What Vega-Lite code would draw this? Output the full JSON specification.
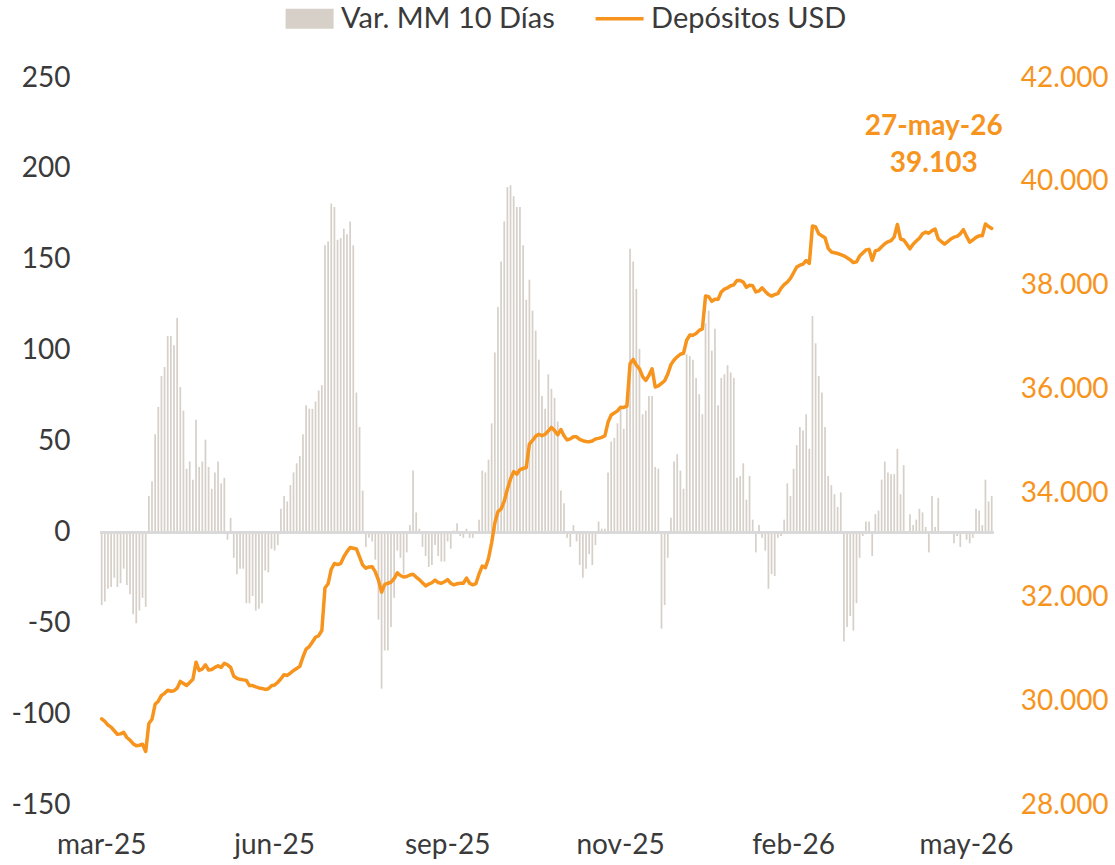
{
  "$schema": "https://vega.github.io/schema/vega-lite/v6.json",
  "width": 893.2,
  "height": 727,
  "autosize": {"type": "none"},
  "padding": {"left": 100.1, "top": 78, "right": 121.7, "bottom": 60},
  "background": "white",
  "config": {
    "view": {"stroke": null},
    "font": "Lato",
    "locale": {
      "number": {"decimal": ",", "thousands": ".", "grouping": [3], "currency": ["$", ""], "minus": "-"}
    },
    "axis": {
      "grid": false, "domain": false, "ticks": false, "tickSize": 0,
      "labelFont": "Lato", "labelFontSize": 28, "labelColor": "#3A3A3A", "title": null
    }
  },
  "datasets": {
    "anotacion": [{"fecha": "2026-05-27", "depositos": 39103, "etiqueta": "27-may-26"}],
    "serie": [
      {"fecha": "2025-03-25", "var_mm10": -40, "depositos": 29660},
      {"fecha": "2025-03-26", "var_mm10": -38, "depositos": 29610},
      {"fecha": "2025-03-27", "var_mm10": -31, "depositos": 29540},
      {"fecha": "2025-03-28", "var_mm10": -30, "depositos": 29500},
      {"fecha": "2025-03-31", "var_mm10": -25, "depositos": 29430},
      {"fecha": "2025-04-01", "var_mm10": -30, "depositos": 29360},
      {"fecha": "2025-04-03", "var_mm10": -28, "depositos": 29370},
      {"fecha": "2025-04-04", "var_mm10": -20, "depositos": 29400},
      {"fecha": "2025-04-07", "var_mm10": -29, "depositos": 29300},
      {"fecha": "2025-04-08", "var_mm10": -34, "depositos": 29250},
      {"fecha": "2025-04-09", "var_mm10": -45, "depositos": 29180},
      {"fecha": "2025-04-10", "var_mm10": -50, "depositos": 29140},
      {"fecha": "2025-04-11", "var_mm10": -43, "depositos": 29150},
      {"fecha": "2025-04-14", "var_mm10": -36, "depositos": 29170},
      {"fecha": "2025-04-15", "var_mm10": -41, "depositos": 29030},
      {"fecha": "2025-04-16", "var_mm10": 20, "depositos": 29570},
      {"fecha": "2025-04-21", "var_mm10": 28, "depositos": 29650},
      {"fecha": "2025-04-22", "var_mm10": 54, "depositos": 29940},
      {"fecha": "2025-04-23", "var_mm10": 69, "depositos": 30000},
      {"fecha": "2025-04-24", "var_mm10": 86, "depositos": 30110},
      {"fecha": "2025-04-25", "var_mm10": 91, "depositos": 30150},
      {"fecha": "2025-04-28", "var_mm10": 108, "depositos": 30210},
      {"fecha": "2025-04-29", "var_mm10": 108, "depositos": 30190},
      {"fecha": "2025-04-30", "var_mm10": 103, "depositos": 30200},
      {"fecha": "2025-05-05", "var_mm10": 118, "depositos": 30250},
      {"fecha": "2025-05-06", "var_mm10": 80, "depositos": 30380},
      {"fecha": "2025-05-07", "var_mm10": 67, "depositos": 30340},
      {"fecha": "2025-05-08", "var_mm10": 35, "depositos": 30300},
      {"fecha": "2025-05-09", "var_mm10": 39, "depositos": 30360},
      {"fecha": "2025-05-12", "var_mm10": 29, "depositos": 30420},
      {"fecha": "2025-05-13", "var_mm10": 62, "depositos": 30750},
      {"fecha": "2025-05-14", "var_mm10": 36, "depositos": 30590},
      {"fecha": "2025-05-15", "var_mm10": 39, "depositos": 30620},
      {"fecha": "2025-05-16", "var_mm10": 51, "depositos": 30700},
      {"fecha": "2025-05-19", "var_mm10": 36, "depositos": 30600},
      {"fecha": "2025-05-20", "var_mm10": 24, "depositos": 30610},
      {"fecha": "2025-05-21", "var_mm10": 33, "depositos": 30650},
      {"fecha": "2025-05-22", "var_mm10": 39, "depositos": 30680},
      {"fecha": "2025-05-23", "var_mm10": 27, "depositos": 30650},
      {"fecha": "2025-05-26", "var_mm10": 30, "depositos": 30730},
      {"fecha": "2025-05-27", "var_mm10": -4, "depositos": 30700},
      {"fecha": "2025-05-28", "var_mm10": 8, "depositos": 30650},
      {"fecha": "2025-05-29", "var_mm10": -14, "depositos": 30480},
      {"fecha": "2025-05-30", "var_mm10": -23, "depositos": 30440},
      {"fecha": "2025-06-02", "var_mm10": -20, "depositos": 30420},
      {"fecha": "2025-06-03", "var_mm10": -20, "depositos": 30410},
      {"fecha": "2025-06-04", "var_mm10": -39, "depositos": 30400},
      {"fecha": "2025-06-05", "var_mm10": -39, "depositos": 30300},
      {"fecha": "2025-06-06", "var_mm10": -35, "depositos": 30300},
      {"fecha": "2025-06-09", "var_mm10": -43, "depositos": 30275},
      {"fecha": "2025-06-10", "var_mm10": -42, "depositos": 30255},
      {"fecha": "2025-06-11", "var_mm10": -39, "depositos": 30245},
      {"fecha": "2025-06-12", "var_mm10": -21, "depositos": 30225},
      {"fecha": "2025-06-13", "var_mm10": -22, "depositos": 30240},
      {"fecha": "2025-06-17", "var_mm10": -9, "depositos": 30297},
      {"fecha": "2025-06-18", "var_mm10": -10, "depositos": 30310},
      {"fecha": "2025-06-19", "var_mm10": -7, "depositos": 30365},
      {"fecha": "2025-06-23", "var_mm10": 13, "depositos": 30430},
      {"fecha": "2025-06-24", "var_mm10": 20, "depositos": 30510},
      {"fecha": "2025-06-25", "var_mm10": 17, "depositos": 30495},
      {"fecha": "2025-06-26", "var_mm10": 26, "depositos": 30540},
      {"fecha": "2025-06-27", "var_mm10": 33, "depositos": 30590},
      {"fecha": "2025-06-30", "var_mm10": 38, "depositos": 30630},
      {"fecha": "2025-07-01", "var_mm10": 42, "depositos": 30670},
      {"fecha": "2025-07-02", "var_mm10": 54, "depositos": 30850},
      {"fecha": "2025-07-03", "var_mm10": 70, "depositos": 31000},
      {"fecha": "2025-07-04", "var_mm10": 68, "depositos": 31050},
      {"fecha": "2025-07-07", "var_mm10": 68, "depositos": 31140},
      {"fecha": "2025-07-08", "var_mm10": 72, "depositos": 31230},
      {"fecha": "2025-07-10", "var_mm10": 78, "depositos": 31260},
      {"fecha": "2025-07-11", "var_mm10": 81, "depositos": 31360},
      {"fecha": "2025-07-14", "var_mm10": 158, "depositos": 32180},
      {"fecha": "2025-07-15", "var_mm10": 160, "depositos": 32260},
      {"fecha": "2025-07-16", "var_mm10": 181, "depositos": 32540},
      {"fecha": "2025-07-17", "var_mm10": 179, "depositos": 32650},
      {"fecha": "2025-07-18", "var_mm10": 161, "depositos": 32630},
      {"fecha": "2025-07-21", "var_mm10": 162, "depositos": 32650},
      {"fecha": "2025-07-22", "var_mm10": 167, "depositos": 32780},
      {"fecha": "2025-07-23", "var_mm10": 164, "depositos": 32880},
      {"fecha": "2025-07-24", "var_mm10": 171, "depositos": 32960},
      {"fecha": "2025-07-25", "var_mm10": 158, "depositos": 32945},
      {"fecha": "2025-07-28", "var_mm10": 77, "depositos": 32930},
      {"fecha": "2025-07-29", "var_mm10": 58, "depositos": 32780},
      {"fecha": "2025-07-30", "var_mm10": 23, "depositos": 32620},
      {"fecha": "2025-07-31", "var_mm10": -8, "depositos": 32560},
      {"fecha": "2025-08-01", "var_mm10": -3, "depositos": 32585},
      {"fecha": "2025-08-04", "var_mm10": -5, "depositos": 32590},
      {"fecha": "2025-08-05", "var_mm10": -15, "depositos": 32490},
      {"fecha": "2025-08-06", "var_mm10": -48, "depositos": 32330},
      {"fecha": "2025-08-07", "var_mm10": -86, "depositos": 32100},
      {"fecha": "2025-08-08", "var_mm10": -65, "depositos": 32250},
      {"fecha": "2025-08-11", "var_mm10": -65, "depositos": 32270},
      {"fecha": "2025-08-12", "var_mm10": -52, "depositos": 32290},
      {"fecha": "2025-08-13", "var_mm10": -36, "depositos": 32360},
      {"fecha": "2025-08-14", "var_mm10": -10, "depositos": 32470},
      {"fecha": "2025-08-18", "var_mm10": -14, "depositos": 32420},
      {"fecha": "2025-08-19", "var_mm10": -23, "depositos": 32390},
      {"fecha": "2025-08-20", "var_mm10": -11, "depositos": 32400},
      {"fecha": "2025-08-21", "var_mm10": 4, "depositos": 32430},
      {"fecha": "2025-08-22", "var_mm10": 34, "depositos": 32445},
      {"fecha": "2025-08-25", "var_mm10": 11, "depositos": 32390},
      {"fecha": "2025-08-26", "var_mm10": 2, "depositos": 32340},
      {"fecha": "2025-08-27", "var_mm10": -8, "depositos": 32280},
      {"fecha": "2025-08-28", "var_mm10": -13, "depositos": 32220},
      {"fecha": "2025-08-29", "var_mm10": -19, "depositos": 32255},
      {"fecha": "2025-09-01", "var_mm10": -18, "depositos": 32280},
      {"fecha": "2025-09-02", "var_mm10": -7, "depositos": 32330},
      {"fecha": "2025-09-03", "var_mm10": -13, "depositos": 32285},
      {"fecha": "2025-09-04", "var_mm10": -16, "depositos": 32270},
      {"fecha": "2025-09-05", "var_mm10": -16, "depositos": 32300},
      {"fecha": "2025-09-08", "var_mm10": -5, "depositos": 32340},
      {"fecha": "2025-09-09", "var_mm10": -9, "depositos": 32270},
      {"fecha": "2025-09-10", "var_mm10": 1, "depositos": 32240},
      {"fecha": "2025-09-11", "var_mm10": 5, "depositos": 32260},
      {"fecha": "2025-09-12", "var_mm10": -2, "depositos": 32270},
      {"fecha": "2025-09-15", "var_mm10": -3, "depositos": 32270},
      {"fecha": "2025-09-16", "var_mm10": 2, "depositos": 32370},
      {"fecha": "2025-09-17", "var_mm10": -3, "depositos": 32270},
      {"fecha": "2025-09-18", "var_mm10": -3, "depositos": 32240},
      {"fecha": "2025-09-19", "var_mm10": 0, "depositos": 32265},
      {"fecha": "2025-09-22", "var_mm10": 7, "depositos": 32450},
      {"fecha": "2025-09-23", "var_mm10": 34, "depositos": 32600},
      {"fecha": "2025-09-24", "var_mm10": 33, "depositos": 32570},
      {"fecha": "2025-09-25", "var_mm10": 40, "depositos": 32750},
      {"fecha": "2025-09-26", "var_mm10": 60, "depositos": 33050},
      {"fecha": "2025-09-29", "var_mm10": 99, "depositos": 33430},
      {"fecha": "2025-09-30", "var_mm10": 124, "depositos": 33650},
      {"fecha": "2025-10-01", "var_mm10": 149, "depositos": 33700},
      {"fecha": "2025-10-02", "var_mm10": 171, "depositos": 33850},
      {"fecha": "2025-10-03", "var_mm10": 190, "depositos": 34080},
      {"fecha": "2025-10-06", "var_mm10": 191, "depositos": 34280},
      {"fecha": "2025-10-07", "var_mm10": 185, "depositos": 34420},
      {"fecha": "2025-10-08", "var_mm10": 179, "depositos": 34370},
      {"fecha": "2025-10-09", "var_mm10": 179, "depositos": 34460},
      {"fecha": "2025-10-13", "var_mm10": 158, "depositos": 34480},
      {"fecha": "2025-10-14", "var_mm10": 128, "depositos": 34500},
      {"fecha": "2025-10-15", "var_mm10": 139, "depositos": 34950},
      {"fecha": "2025-10-16", "var_mm10": 122, "depositos": 35020},
      {"fecha": "2025-10-17", "var_mm10": 111, "depositos": 35100},
      {"fecha": "2025-10-20", "var_mm10": 95, "depositos": 35140},
      {"fecha": "2025-10-21", "var_mm10": 75, "depositos": 35110},
      {"fecha": "2025-10-22", "var_mm10": 68, "depositos": 35140},
      {"fecha": "2025-10-23", "var_mm10": 87, "depositos": 35200},
      {"fecha": "2025-10-24", "var_mm10": 79, "depositos": 35270},
      {"fecha": "2025-10-27", "var_mm10": 74, "depositos": 35210},
      {"fecha": "2025-10-28", "var_mm10": 61, "depositos": 35130},
      {"fecha": "2025-10-29", "var_mm10": 23, "depositos": 35230},
      {"fecha": "2025-10-30", "var_mm10": 16, "depositos": 35110},
      {"fecha": "2025-10-31", "var_mm10": -3, "depositos": 35030},
      {"fecha": "2025-11-03", "var_mm10": -8, "depositos": 35050},
      {"fecha": "2025-11-04", "var_mm10": 4, "depositos": 35090},
      {"fecha": "2025-11-05", "var_mm10": -5, "depositos": 35090},
      {"fecha": "2025-11-06", "var_mm10": -18, "depositos": 35040},
      {"fecha": "2025-11-07", "var_mm10": -25, "depositos": 35015},
      {"fecha": "2025-11-10", "var_mm10": -20, "depositos": 35000},
      {"fecha": "2025-11-11", "var_mm10": -12, "depositos": 34995},
      {"fecha": "2025-11-12", "var_mm10": -18, "depositos": 35010},
      {"fecha": "2025-11-13", "var_mm10": -7, "depositos": 35050},
      {"fecha": "2025-11-14", "var_mm10": 6, "depositos": 35060},
      {"fecha": "2025-11-17", "var_mm10": 2, "depositos": 35080},
      {"fecha": "2025-11-18", "var_mm10": 2, "depositos": 35110},
      {"fecha": "2025-11-19", "var_mm10": 33, "depositos": 35370},
      {"fecha": "2025-11-20", "var_mm10": 50, "depositos": 35510},
      {"fecha": "2025-11-25", "var_mm10": 52, "depositos": 35550},
      {"fecha": "2025-11-26", "var_mm10": 60, "depositos": 35590},
      {"fecha": "2025-11-27", "var_mm10": 68, "depositos": 35660},
      {"fecha": "2025-11-28", "var_mm10": 57, "depositos": 35655},
      {"fecha": "2025-12-01", "var_mm10": 73, "depositos": 35680},
      {"fecha": "2025-12-02", "var_mm10": 156, "depositos": 36500},
      {"fecha": "2025-12-03", "var_mm10": 149, "depositos": 36580},
      {"fecha": "2025-12-04", "var_mm10": 134, "depositos": 36470},
      {"fecha": "2025-12-05", "var_mm10": 101, "depositos": 36400},
      {"fecha": "2025-12-09", "var_mm10": 65, "depositos": 36250},
      {"fecha": "2025-12-10", "var_mm10": 67, "depositos": 36175},
      {"fecha": "2025-12-11", "var_mm10": 75, "depositos": 36270},
      {"fecha": "2025-12-12", "var_mm10": 75, "depositos": 36400},
      {"fecha": "2025-12-15", "var_mm10": 36, "depositos": 36050},
      {"fecha": "2025-12-16", "var_mm10": 35, "depositos": 36070},
      {"fecha": "2025-12-17", "var_mm10": -53, "depositos": 36120},
      {"fecha": "2025-12-18", "var_mm10": -40, "depositos": 36170},
      {"fecha": "2025-12-19", "var_mm10": -14, "depositos": 36300},
      {"fecha": "2025-12-22", "var_mm10": 8, "depositos": 36480},
      {"fecha": "2025-12-23", "var_mm10": 39, "depositos": 36570},
      {"fecha": "2025-12-24", "var_mm10": 43, "depositos": 36630},
      {"fecha": "2025-12-26", "var_mm10": 34, "depositos": 36680},
      {"fecha": "2025-12-29", "var_mm10": 24, "depositos": 36700},
      {"fecha": "2025-12-30", "var_mm10": 98, "depositos": 36950},
      {"fecha": "2025-12-31", "var_mm10": 97, "depositos": 37050},
      {"fecha": "2026-01-02", "var_mm10": 95, "depositos": 37045},
      {"fecha": "2026-01-05", "var_mm10": 85, "depositos": 37080},
      {"fecha": "2026-01-06", "var_mm10": 76, "depositos": 37140},
      {"fecha": "2026-01-07", "var_mm10": 65, "depositos": 37170},
      {"fecha": "2026-01-08", "var_mm10": 115, "depositos": 37800},
      {"fecha": "2026-01-09", "var_mm10": 122, "depositos": 37790},
      {"fecha": "2026-01-12", "var_mm10": 100, "depositos": 37700},
      {"fecha": "2026-01-13", "var_mm10": 112, "depositos": 37740},
      {"fecha": "2026-01-14", "var_mm10": 70, "depositos": 37740},
      {"fecha": "2026-01-15", "var_mm10": 85, "depositos": 37880},
      {"fecha": "2026-01-16", "var_mm10": 87, "depositos": 37935},
      {"fecha": "2026-01-19", "var_mm10": 92, "depositos": 37960},
      {"fecha": "2026-01-20", "var_mm10": 88, "depositos": 38000},
      {"fecha": "2026-01-21", "var_mm10": 85, "depositos": 38017},
      {"fecha": "2026-01-22", "var_mm10": 30, "depositos": 38100},
      {"fecha": "2026-01-23", "var_mm10": 31, "depositos": 38100},
      {"fecha": "2026-01-26", "var_mm10": 38, "depositos": 38070},
      {"fecha": "2026-01-27", "var_mm10": 18, "depositos": 37970},
      {"fecha": "2026-01-28", "var_mm10": 31, "depositos": 38010},
      {"fecha": "2026-01-29", "var_mm10": 7, "depositos": 38000},
      {"fecha": "2026-01-30", "var_mm10": -11, "depositos": 37880},
      {"fecha": "2026-02-02", "var_mm10": 4, "depositos": 37900},
      {"fecha": "2026-02-03", "var_mm10": -3, "depositos": 37960},
      {"fecha": "2026-02-04", "var_mm10": -10, "depositos": 37890},
      {"fecha": "2026-02-05", "var_mm10": -31, "depositos": 37830},
      {"fecha": "2026-02-06", "var_mm10": -23, "depositos": 37800},
      {"fecha": "2026-02-09", "var_mm10": -24, "depositos": 37830},
      {"fecha": "2026-02-10", "var_mm10": -3, "depositos": 37850},
      {"fecha": "2026-02-11", "var_mm10": -2, "depositos": 37950},
      {"fecha": "2026-02-12", "var_mm10": 7, "depositos": 38020},
      {"fecha": "2026-02-13", "var_mm10": 27, "depositos": 38070},
      {"fecha": "2026-02-18", "var_mm10": 20, "depositos": 38140},
      {"fecha": "2026-02-19", "var_mm10": 35, "depositos": 38250},
      {"fecha": "2026-02-20", "var_mm10": 48, "depositos": 38360},
      {"fecha": "2026-02-23", "var_mm10": 58, "depositos": 38395},
      {"fecha": "2026-02-24", "var_mm10": 56, "depositos": 38416},
      {"fecha": "2026-02-25", "var_mm10": 65, "depositos": 38485},
      {"fecha": "2026-02-26", "var_mm10": 46, "depositos": 38430},
      {"fecha": "2026-02-27", "var_mm10": 119, "depositos": 39150},
      {"fecha": "2026-03-02", "var_mm10": 104, "depositos": 39130},
      {"fecha": "2026-03-03", "var_mm10": 86, "depositos": 39000},
      {"fecha": "2026-03-04", "var_mm10": 77, "depositos": 38960},
      {"fecha": "2026-03-05", "var_mm10": 58, "depositos": 38925},
      {"fecha": "2026-03-06", "var_mm10": 31, "depositos": 38720},
      {"fecha": "2026-03-09", "var_mm10": 26, "depositos": 38650},
      {"fecha": "2026-03-10", "var_mm10": 21, "depositos": 38635},
      {"fecha": "2026-03-11", "var_mm10": 14, "depositos": 38620},
      {"fecha": "2026-03-12", "var_mm10": 22, "depositos": 38600},
      {"fecha": "2026-03-13", "var_mm10": -60, "depositos": 38575},
      {"fecha": "2026-03-16", "var_mm10": -52, "depositos": 38540},
      {"fecha": "2026-03-17", "var_mm10": -46, "depositos": 38500},
      {"fecha": "2026-03-18", "var_mm10": -54, "depositos": 38445},
      {"fecha": "2026-03-19", "var_mm10": -39, "depositos": 38460},
      {"fecha": "2026-03-20", "var_mm10": -14, "depositos": 38570},
      {"fecha": "2026-03-25", "var_mm10": -2, "depositos": 38630},
      {"fecha": "2026-03-26", "var_mm10": 6, "depositos": 38690},
      {"fecha": "2026-03-27", "var_mm10": 6, "depositos": 38700},
      {"fecha": "2026-03-30", "var_mm10": -13, "depositos": 38490},
      {"fecha": "2026-03-31", "var_mm10": 10, "depositos": 38670},
      {"fecha": "2026-04-01", "var_mm10": 12, "depositos": 38690},
      {"fecha": "2026-04-06", "var_mm10": 29, "depositos": 38750},
      {"fecha": "2026-04-07", "var_mm10": 39, "depositos": 38810},
      {"fecha": "2026-04-08", "var_mm10": 33, "depositos": 38845},
      {"fecha": "2026-04-09", "var_mm10": 32, "depositos": 38870},
      {"fecha": "2026-04-10", "var_mm10": 32, "depositos": 38940},
      {"fecha": "2026-04-13", "var_mm10": 46, "depositos": 39180},
      {"fecha": "2026-04-14", "var_mm10": 21, "depositos": 38900},
      {"fecha": "2026-04-15", "var_mm10": 37, "depositos": 38880},
      {"fecha": "2026-04-16", "var_mm10": 0, "depositos": 38800},
      {"fecha": "2026-04-17", "var_mm10": 10, "depositos": 38710},
      {"fecha": "2026-04-20", "var_mm10": 4, "depositos": 38800},
      {"fecha": "2026-04-21", "var_mm10": 7, "depositos": 38860},
      {"fecha": "2026-04-22", "var_mm10": 13, "depositos": 38915},
      {"fecha": "2026-04-23", "var_mm10": 11, "depositos": 39000},
      {"fecha": "2026-04-24", "var_mm10": 3, "depositos": 39032},
      {"fecha": "2026-04-27", "var_mm10": -11, "depositos": 39010},
      {"fecha": "2026-04-28", "var_mm10": 20, "depositos": 39060},
      {"fecha": "2026-04-29", "var_mm10": 3, "depositos": 39090},
      {"fecha": "2026-04-30", "var_mm10": 19, "depositos": 38900},
      {"fecha": "2026-05-04", "var_mm10": 0, "depositos": 38850},
      {"fecha": "2026-05-05", "var_mm10": 0, "depositos": 38800},
      {"fecha": "2026-05-06", "var_mm10": 0, "depositos": 38850},
      {"fecha": "2026-05-07", "var_mm10": 0, "depositos": 38900},
      {"fecha": "2026-05-08", "var_mm10": -6, "depositos": 38935},
      {"fecha": "2026-05-11", "var_mm10": -2, "depositos": 38950},
      {"fecha": "2026-05-12", "var_mm10": -8, "depositos": 39000},
      {"fecha": "2026-05-13", "var_mm10": 0, "depositos": 39080},
      {"fecha": "2026-05-14", "var_mm10": -4, "depositos": 38950},
      {"fecha": "2026-05-15", "var_mm10": -6, "depositos": 38840},
      {"fecha": "2026-05-18", "var_mm10": -3, "depositos": 38880},
      {"fecha": "2026-05-19", "var_mm10": 13, "depositos": 38930},
      {"fecha": "2026-05-20", "var_mm10": 12, "depositos": 38960},
      {"fecha": "2026-05-21", "var_mm10": 4, "depositos": 38960},
      {"fecha": "2026-05-22", "var_mm10": 29, "depositos": 39190},
      {"fecha": "2026-05-26", "var_mm10": 17, "depositos": 39140},
      {"fecha": "2026-05-27", "var_mm10": 20, "depositos": 39103}
    ]
  },
  "data": {"name": "serie"},
  "layer": [
    {
      "layer": [
        {
          "mark": {"type": "bar"},
          "encoding": {
            "x": {
              "field": "fecha", "type": "ordinal",
              "scale": {"paddingInner": 0.45, "paddingOuter": 0.225},
              "axis": {
                "values": ["2025-03-25", "2025-06-18", "2025-09-08", "2025-11-27", "2026-02-19", "2026-05-14"],
                "labelExpr": "datum.value == '2025-03-25' ? 'mar-25' : datum.value == '2025-06-18' ? 'jun-25' : datum.value == '2025-09-08' ? 'sep-25' : datum.value == '2025-11-27' ? 'nov-25' : datum.value == '2026-02-19' ? 'feb-26' : 'may-26'",
                "labelAngle": 0, "labelPadding": 40, "labelBaseline": "middle"
              }
            },
            "y": {
              "field": "var_mm10", "type": "quantitative",
              "scale": {"domain": [-150, 250], "nice": false},
              "axis": {
                "orient": "left",
                "values": [-150, -100, -50, 0, 50, 100, 150, 200, 250],
                "labelExpr": "datum.value < 0 ? '-' + abs(datum.value) : '' + datum.value",
                "labelPadding": 30, "labelBaseline": "middle"
              }
            },
            "color": {
              "datum": "Var. MM 10 Días", "type": "nominal",
              "scale": {"domain": ["Var. MM 10 Días", "Depósitos USD"], "range": ["#D6D0C9", "#F7941D"]},
              "legend": {
                "orient": "none", "legendX": 195, "legendY": -74,
                "direction": "horizontal", "title": null,
                "symbolSize": 2304, "labelFontSize": 29, "labelFont": "Lato", "labelColor": "#3A3A3A",
                "labelLimit": 500, "labelOffset": 17, "columnPadding": 33, "padding": 0,
                "encode": {
                  "symbols": {
                    "update": {
                      "shape": {"signal": "datum.value == 'Depósitos USD' ? 'M-1,0H1' : 'M-1,-0.42H1V0.42H-1Z'"},
                      "fill": {"signal": "datum.value == 'Depósitos USD' ? 'transparent' : '#D6D0C9'"},
                      "stroke": {"signal": "datum.value == 'Depósitos USD' ? '#F7941D' : 'transparent'"},
                      "strokeWidth": {"signal": "datum.value == 'Depósitos USD' ? 3.5 : 0"},
                      "opacity": {"value": 1}
                    }
                  }
                }
              }
            }
          }
        },
        {
          "mark": {"type": "rule", "color": "#D9D9D9", "strokeWidth": 2},
          "encoding": {"y": {"datum": 0, "type": "quantitative"}}
        }
      ]
    },
    {
      "layer": [
        {
          "mark": {"type": "line", "strokeWidth": 3.5, "strokeJoin": "round", "strokeCap": "round"},
          "encoding": {
            "x": {"field": "fecha", "type": "ordinal"},
            "y": {
              "field": "depositos", "type": "quantitative",
              "scale": {"domain": [28000, 42000], "nice": false, "zero": false},
              "axis": {
                "orient": "right",
                "values": [28000, 30000, 32000, 34000, 36000, 38000, 40000, 42000],
                "format": ",d", "labelColor": "#F7941D", "labelPadding": 27, "labelBaseline": "middle"
              }
            },
            "color": {"datum": "Depósitos USD", "type": "nominal"}
          }
        },
        {
          "data": {"name": "anotacion"},
          "mark": {"type": "text", "font": "Lato", "fontWeight": "bold", "fontSize": 28, "color": "#F7941D", "align": "center", "baseline": "middle", "dx": -58, "dy": -101},
          "encoding": {
            "x": {"field": "fecha", "type": "ordinal"},
            "y": {"field": "depositos", "type": "quantitative"},
            "text": {"field": "etiqueta", "type": "nominal"}
          }
        },
        {
          "data": {"name": "anotacion"},
          "mark": {"type": "text", "font": "Lato", "fontWeight": "bold", "fontSize": 28, "color": "#F7941D", "align": "center", "baseline": "middle", "dx": -58, "dy": -64},
          "encoding": {
            "x": {"field": "fecha", "type": "ordinal"},
            "y": {"field": "depositos", "type": "quantitative"},
            "text": {"field": "depositos", "type": "quantitative", "format": ",d"}
          }
        }
      ]
    }
  ],
  "resolve": {"scale": {"y": "independent"}}
}
